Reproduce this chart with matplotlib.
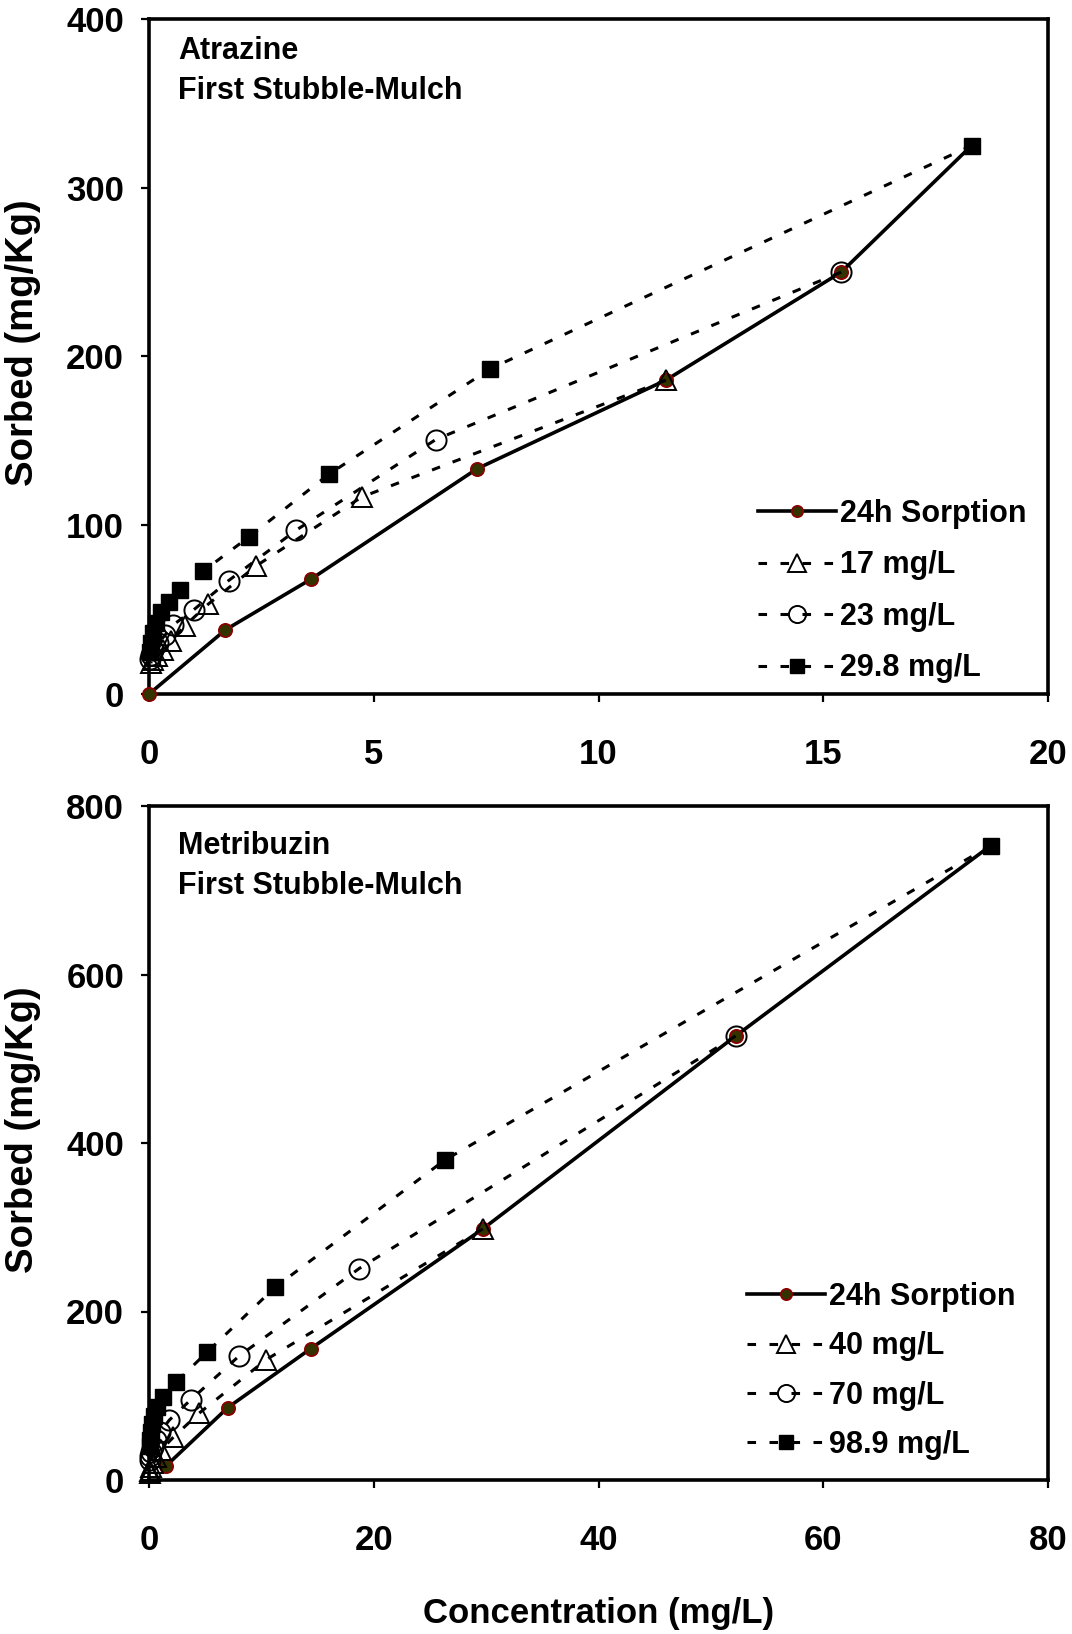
import matplotlib
matplotlib.use('Agg')
import matplotlib.pyplot as plt

plt.rcParams['font.family'] = ['Liberation Sans', 'DejaVu Sans']
plt.rcParams['font.weight'] = 'bold'

# ---------------- Data: Atrazine ----------------
atz_sorp_x = [0, 1.7, 3.6, 7.3, 11.5, 15.4, 18.3]
atz_sorp_y = [0, 38, 68, 133.5, 186, 250, 325]

atz_17_x = [11.5, 4.73, 2.39, 1.32, 0.8, 0.5, 0.32, 0.18, 0.09, 0.04]
atz_17_y = [186, 116.7, 76, 53.3, 40.5, 31.5, 26, 22.5, 20, 18.5]

atz_23_x = [15.4, 6.38, 3.27, 1.77, 1.0, 0.54, 0.36, 0.2, 0.1, 0.05, 0.02]
atz_23_y = [250, 150.8, 97, 67.2, 50, 41, 35, 30, 26, 23, 21]

atz_29_x = [18.3, 7.59, 4.01, 2.23, 1.21, 0.69, 0.44, 0.26, 0.15, 0.08, 0.04, 0.02]
atz_29_y = [325, 192.7, 130.4, 93.2, 72.9, 61.5, 54.5, 48.5, 42, 36, 30, 25]

atz_labels = ['24h Sorption', '17 mg/L', '23 mg/L', '29.8 mg/L']

# ---------------- Data: Metribuzin ----------------
met_sorp_x = [1.5, 7.0, 14.4, 29.7, 52.2, 74.9]
met_sorp_y = [16.5, 85.8, 156, 298, 527, 753]

met_40_x = [29.7, 10.4, 4.45, 2.15, 1.1, 0.6, 0.35, 0.2, 0.1, 0.05]
met_40_y = [298, 142.6, 79.2, 50.5, 36, 27, 20, 15, 11, 8]

met_70_x = [52.2, 18.7, 8.0, 3.7, 1.8, 1.0, 0.6, 0.35, 0.2, 0.12, 0.06]
met_70_y = [527, 251, 147, 95, 71, 57, 47, 39, 33, 28, 24]

met_99_x = [74.9, 26.3, 11.2, 5.16, 2.4, 1.22, 0.7, 0.45, 0.3, 0.2, 0.12, 0.07]
met_99_y = [753, 379.6, 228.5, 151.7, 116, 99, 87, 76, 66, 57, 48, 40]

met_labels = ['24h Sorption', '40 mg/L', '70 mg/L', '98.9 mg/L']

atz_xticks = [0, 5, 10, 15, 20]
atz_yticks = [0, 100, 200, 300, 400]
met_xticks = [0, 20, 40, 60, 80]
met_yticks = [0, 200, 400, 600, 800]

# ---------------- Figure ----------------
W, H = 1072, 1634
fig = plt.figure(figsize=(W / 100, H / 100), dpi=100)

def px_axes(l, t, r, b):
    return fig.add_axes([l / W, 1 - b / H, (r - l) / W, (b - t) / H])

ax1 = px_axes(149, 19, 1048, 694)
ax2 = px_axes(149, 806, 1048, 1480)

DASH = (0, (2.8, 4.4))
SORP_KW = dict(color='black', lw=2.6, marker='o', ms=9.5, mfc='#333300',
               mec='#8B0000', mew=1.3, zorder=3, clip_on=False)
TRI_KW = dict(color='black', lw=2.2, ls=DASH, marker='^', ms=14.5, mfc='none',
              mec='black', mew=1.4, zorder=4, clip_on=False)
CIR_KW = dict(color='black', lw=2.2, ls=DASH, marker='o', ms=14.5, mfc='none',
              mec='black', mew=1.4, zorder=4, clip_on=False)
SQ_KW = dict(color='black', lw=2.2, ls=DASH, marker='s', ms=12, mfc='black',
             mec='black', mew=1.0, zorder=5, clip_on=False)


def draw(ax, sx, sy, tx, ty, cx, cy, qx, qy, labels, xlim, ylim, xt, yt,
         t1, t2, ty1, ty2, leg_anchor, lspace):
    ax.plot(sx, sy, label=labels[0], **SORP_KW)
    ax.plot(tx, ty, label=labels[1], **TRI_KW)
    ax.plot(cx, cy, label=labels[2], **CIR_KW)
    ax.plot(qx, qy, label=labels[3], **SQ_KW)
    ax.set_xlim(*xlim)
    ax.set_ylim(*ylim)
    ax.set_xticks(xt)
    ax.set_yticks(yt)
    for s in ax.spines.values():
        s.set_linewidth(2.6)
    ax.tick_params(axis='both', direction='out', length=6, width=1.6,
                   labelsize=25)
    ax.tick_params(axis='x', pad=26)
    ax.tick_params(axis='y', pad=12)
    for lab in ax.get_xticklabels() + ax.get_yticklabels():
        lab.set_fontweight('bold')
    ax.set_ylabel('Sorbed (mg/Kg)', fontsize=27.5, fontweight='bold')
    ax.yaxis.set_label_coords(-0.12, 0.52)
    ax.text(0.032, ty1, t1, transform=ax.transAxes, fontsize=22,
            fontweight='bold', va='center', ha='left')
    ax.text(0.032, ty2, t2, transform=ax.transAxes, fontsize=22,
            fontweight='bold', va='center', ha='left')
    leg = ax.legend(loc='lower left', bbox_to_anchor=leg_anchor, frameon=False,
                    fontsize=22, handlelength=2.55, handletextpad=0.15,
                    labelspacing=lspace, borderpad=0, borderaxespad=0,
                    markerscale=0.85, numpoints=1)
    for t in leg.get_texts():
        t.set_fontweight('bold')
    return leg


draw(ax1, atz_sorp_x, atz_sorp_y, atz_17_x, atz_17_y, atz_23_x, atz_23_y,
     atz_29_x, atz_29_y, atz_labels, (0, 20), (0, 400), atz_xticks, atz_yticks,
     'Atrazine', 'First Stubble-Mulch', 0.952, 0.894, (0.677, 0.016), 0.70)
draw(ax2, met_sorp_x, met_sorp_y, met_40_x, met_40_y, met_70_x, met_70_y,
     met_99_x, met_99_y, met_labels, (0, 80), (0, 800), met_xticks, met_yticks,
     'Metribuzin', 'First Stubble-Mulch', 0.94, 0.882, (0.665, 0.03), 0.63)

ax2.set_xlabel('Concentration (mg/L)', fontsize=25, fontweight='bold')
ax2.xaxis.set_label_coords(0.5, -0.174)

fig.savefig('out.png', dpi=100)
